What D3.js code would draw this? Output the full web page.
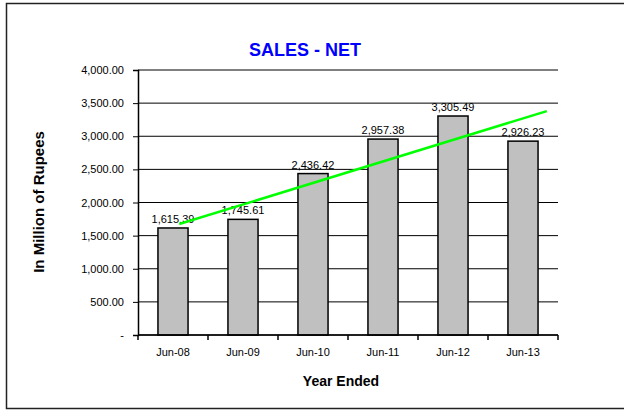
<!DOCTYPE html>
<html>
<head>
<meta charset="utf-8">
<script src="https://cdn.jsdelivr.net/npm/d3@7"></script>
<style>
  body { margin: 0; background: #fff; }
  text { font-family: Arial, "Liberation Sans", sans-serif; }
</style>
</head>
<body>
<div id="chart"></div>
<script>
// Datos
const categories = ["Jun-08", "Jun-09", "Jun-10", "Jun-11", "Jun-12", "Jun-13"];
const sales = [1615.39, 1745.61, 2436.42, 2957.38, 3305.49, 2926.23];
const yTicks = [0, 500, 1000, 1500, 2000, 2500, 3000, 3500, 4000];
// linea de tendencia: [posicion en categorias, valor]
const trendPos = [0.09, 5.34];
const trendVal = [1675, 3380];

const width = 624, height = 411;
const margin = {top: 70, right: 66, bottom: 76, left: 138};

const svg = d3.select("#chart").append("svg")
  .attr("width", width)
  .attr("height", height);

// marco exterior
svg.append("rect")
  .attr("x", 6.5).attr("y", 3.5)
  .attr("width", 630).attr("height", 405)
  .attr("fill", "none")
  .attr("stroke", "#222")
  .attr("stroke-width", 1.5);

const x = d3.scaleBand()
  .domain(categories)
  .range([margin.left, width - margin.right])
  .paddingInner(0.57)
  .paddingOuter(0.285);

const y = d3.scaleLinear()
  .domain([0, 4000])
  .range([height - margin.bottom, margin.top]);

const fmt = d3.format(",.2f");

// lineas de cuadricula
svg.append("g")
  .selectAll("line")
  .data(yTicks)
  .enter().append("line")
  .attr("x1", margin.left).attr("x2", width - margin.right)
  .attr("y1", d => y(d)).attr("y2", d => y(d))
  .attr("stroke", "#000")
  .attr("stroke-width", 1);

// eje Y
const yAxis = svg.append("g")
  .attr("transform", `translate(${margin.left},0)`)
  .call(d3.axisLeft(y).tickValues(yTicks).tickSize(5).tickPadding(9)
    .tickFormat(d => d === 0 ? "-" : fmt(d)));
yAxis.select(".domain").attr("stroke-width", 1.5);
yAxis.selectAll("text").attr("font-size", "11px").attr("fill", "#000")
  .style("font-family", "Arial, 'Liberation Sans', sans-serif");

// barras
svg.append("g")
  .selectAll("rect")
  .data(sales)
  .enter().append("rect")
  .attr("x", (d, i) => x(categories[i]))
  .attr("y", d => y(d))
  .attr("width", x.bandwidth())
  .attr("height", d => y(0) - y(d))
  .attr("fill", "#c0c0c0")
  .attr("stroke", "#000")
  .attr("stroke-width", 1.5);

// etiquetas de valores
svg.append("g")
  .selectAll("text")
  .data(sales)
  .enter().append("text")
  .attr("x", (d, i) => x(categories[i]) + x.bandwidth() / 2)
  .attr("y", d => y(d) - 5)
  .attr("text-anchor", "middle")
  .attr("font-size", "11px")
  .text(d => fmt(d));

// eje X
const step = x.step();
const xPos = t => margin.left + (t + 0.5) * step;
const xAxis = svg.append("g")
  .attr("transform", `translate(0,${y(0)})`);
xAxis.append("line")
  .attr("x1", margin.left).attr("x2", width - margin.right)
  .attr("stroke", "#000").attr("stroke-width", 1.5);
xAxis.selectAll(".tick")
  .data(d3.range(categories.length + 1))
  .enter().append("line")
  .attr("x1", d => margin.left + d * step).attr("x2", d => margin.left + d * step)
  .attr("y1", 0).attr("y2", 5)
  .attr("stroke", "#000").attr("stroke-width", 1.5);
xAxis.selectAll("text")
  .data(categories)
  .enter().append("text")
  .attr("x", d => x(d) + x.bandwidth() / 2)
  .attr("y", 21)
  .attr("text-anchor", "middle")
  .attr("font-size", "11px")
  .text(d => d);

// linea de tendencia
svg.append("line")
  .attr("x1", xPos(trendPos[0])).attr("y1", y(trendVal[0]))
  .attr("x2", xPos(trendPos[1])).attr("y2", y(trendVal[1]))
  .attr("stroke", "#00ff00")
  .attr("stroke-width", 2.5);

// titulos
svg.append("text")
  .attr("x", 305).attr("y", 56)
  .attr("text-anchor", "middle")
  .attr("font-size", "18px")
  .attr("font-weight", "bold")
  .attr("fill", "#0000ff")
  .text("SALES - NET");

svg.append("text")
  .attr("x", 341).attr("y", 386)
  .attr("text-anchor", "middle")
  .attr("font-size", "14px")
  .attr("font-weight", "bold")
  .text("Year Ended");

svg.append("text")
  .attr("transform", "translate(44,202) rotate(-90)")
  .attr("text-anchor", "middle")
  .attr("font-size", "15px")
  .attr("font-weight", "bold")
  .text("In Million of Rupees");
</script>
</body>
</html>
